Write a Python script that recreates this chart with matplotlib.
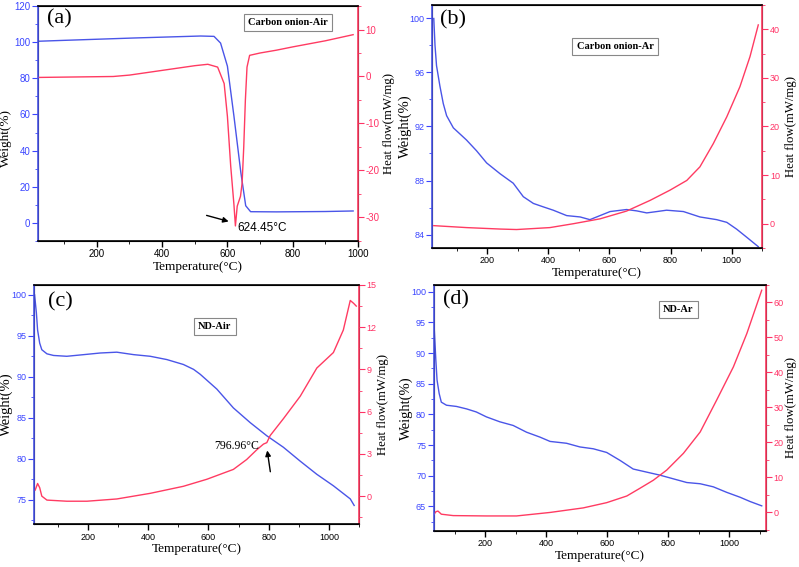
import matplotlib as mpl
mpl.use('agg')
import matplotlib.pyplot as plt
from matplotlib.ticker import MultipleLocator, AutoMinorLocator

plt.rc('font', family='Liberation Sans')
plt.rc('axes', unicode_minus=False)

# ---- (a) carbon onion in air ----
a_t_w = [20, 100, 313, 518, 559, 579, 600, 620, 641, 656, 671, 750, 900, 985]
a_w = [100.5, 101.0, 102.3, 103.4, 103.2, 99.5, 86.7, 59.0, 28.0, 9.5, 6.2, 6.1, 6.3, 6.6]
a_t_h = [20, 250, 300, 400, 500, 540, 570, 590, 600, 610, 620, 624.45, 630, 640,
         645, 650, 655, 660, 668, 700, 750, 800, 900, 985]
a_h = [-0.2, 0.0, 0.3, 1.3, 2.3, 2.6, 2.0, -1.5, -8.5, -19.0, -27.3, -31.8, -27.6,
       -25.5, -22.7, -15.0, -5.0, 2.0, 4.5, 5.0, 5.6, 6.3, 7.6, 8.9]

# ---- (b) carbon onion in Ar ----
b_t_w = [25, 29, 34, 45, 56, 67, 89, 132, 165, 198, 242, 285, 318, 351, 383, 416,
         460, 504, 536, 569, 602, 656, 689, 722, 755, 787, 842, 896, 951, 984,
         1016, 1049, 1087]
b_w = [100.0, 98.0, 96.5, 95.0, 93.7, 92.8, 91.9, 91.0, 90.2, 89.3, 88.5, 87.8,
       86.8, 86.3, 86.05, 85.8, 85.4, 85.3, 85.1, 85.4, 85.7, 85.85, 85.75, 85.6,
       85.7, 85.8, 85.7, 85.3, 85.1, 84.9, 84.4, 83.8, 83.1]
b_t_h = [25, 132, 242, 296, 405, 482, 569, 656, 733, 798, 853, 896, 940, 984,
         1027, 1060, 1087]
b_h = [-0.4, -0.8, -1.1, -1.2, -0.8, 0.0, 1.0, 2.6, 4.8, 6.9, 8.9, 11.7, 16.5,
       22.0, 28.2, 34.4, 40.9]

# ---- (c) ND in air ----
c_t_w = [23, 29, 33, 40, 47, 64, 86, 130, 186, 241, 296, 352, 407, 462, 517, 551,
         573, 628, 683, 739, 794, 849, 905, 960, 1015, 1071, 1084]
c_w = [100.0, 97.8, 95.7, 94.1, 93.3, 92.8, 92.6, 92.5, 92.7, 92.9, 93.0, 92.7,
       92.5, 92.1, 91.5, 90.9, 90.3, 88.5, 86.2, 84.4, 82.8, 81.4, 79.7, 78.1,
       76.7, 75.1, 74.3]
c_t_h = [25, 33, 40, 47, 64, 130, 197, 296, 407, 517, 595, 683, 727, 761, 783,
         794, 805, 849, 905, 960, 1015, 1048, 1071, 1082, 1091]
c_h = [0.43, 0.9, 0.6, 0.0, -0.28, -0.36, -0.36, -0.2, 0.2, 0.7, 1.2, 1.9, 2.6,
       3.3, 3.7, 3.8, 4.3, 5.5, 7.1, 9.1, 10.2, 11.8, 13.9, 13.7, 13.5]

# ---- (d) ND in Ar ----
d_t_w = [29, 32, 37, 41, 48, 55, 72, 105, 138, 170, 203, 247, 291, 335, 379, 412,
         466, 510, 554, 598, 642, 685, 729, 773, 817, 861, 905, 948, 992, 1036,
         1069, 1107]
d_w = [100.0, 93.8, 88.9, 85.6, 83.4, 82.0, 81.5, 81.3, 80.9, 80.4, 79.6, 78.8,
       78.2, 77.1, 76.3, 75.6, 75.3, 74.7, 74.4, 73.8, 72.5, 71.1, 70.6, 70.1,
       69.5, 68.9, 68.7, 68.2, 67.3, 66.5, 65.8, 65.1]
d_t_h = [29, 37, 44, 55, 94, 203, 302, 412, 521, 598, 664, 707, 751, 795, 850,
         905, 959, 1014, 1058, 1107]
d_h = [-0.8, 0.2, 0.4, -0.5, -0.9, -1.0, -1.0, 0.0, 1.3, 2.8, 4.7, 6.9, 9.2, 12.1,
       16.9, 23.0, 32.1, 41.6, 51.1, 63.5]

BLUE = '#4a55e8'
RED = '#ff3b62'
BLUE_TXT = '#3a45ff'
RED_TXT = '#ff3366'
SERIF = 'Liberation Serif'

fig = plt.figure(figsize=(7.99, 5.67), dpi=100)


def panel(rect, tw, w, th, h, xlim, wlim, hlim, wstep, hstep, letter, name,
          letter_pos, name_pos, wlab_xy, hlab_x, tsize=6.5, wsize=10.5):
    ax = fig.add_axes(rect)
    ax2 = ax.twinx()
    ax.plot(tw, w, color=BLUE, lw=1.0)
    ax2.plot(th, h, color=RED, lw=1.0)
    ax.set_xlim(*xlim)
    ax.set_ylim(*wlim)
    ax2.set_ylim(*hlim)
    ax.xaxis.set_major_locator(MultipleLocator(200))
    ax.xaxis.set_minor_locator(MultipleLocator(100))
    ax.yaxis.set_major_locator(MultipleLocator(wstep))
    ax.yaxis.set_minor_locator(AutoMinorLocator(2))
    ax2.yaxis.set_major_locator(MultipleLocator(hstep))
    ax2.yaxis.set_minor_locator(AutoMinorLocator(2))
    ax.tick_params(axis='x', direction='out', length=4, width=1, labelsize=tsize,
                   pad=2)
    ax.tick_params(axis='x', which='minor', direction='out', length=2.5)
    ax.tick_params(axis='y', which='both', direction='out', colors=BLUE_TXT,
                   labelsize=tsize, pad=1.5)
    ax.tick_params(axis='y', which='major', length=4)
    ax.tick_params(axis='y', which='minor', length=2.5)
    ax2.tick_params(axis='y', which='both', direction='out', colors=RED_TXT,
                    labelsize=tsize, pad=1.5)
    ax2.tick_params(axis='y', which='major', length=4)
    ax2.tick_params(axis='y', which='minor', length=2.5)
    ax2.spines['left'].set_color(BLUE)
    ax2.spines['right'].set_color(RED)
    for s in ax2.spines.values():
        s.set_linewidth(1.2)
    ax.set_xlabel('Temperature(\u00b0C)', family=SERIF, fontsize=9.5, labelpad=1)
    ax.set_ylabel('Weight(%)', family=SERIF, fontsize=wsize)
    ax.yaxis.set_label_coords(*wlab_xy)
    ax2.set_ylabel('Heat flow(mW/mg)', family=SERIF, fontsize=9.2)
    ax2.yaxis.set_label_coords(hlab_x, 0.5)
    ax.text(letter_pos[0], letter_pos[1], letter, transform=ax.transAxes,
            family=SERIF, fontsize=16, ha='left', va='top')
    ax.text(name_pos[0], name_pos[1], name, transform=ax.transAxes,
            family=SERIF, fontsize=7.5, fontweight='bold', ha='center',
            va='center',
            bbox=dict(boxstyle='square,pad=0.4', fc='white', ec='#888888',
                      lw=0.8))
    return ax, ax2


axa, axa2 = panel([0.0476, 0.575, 0.4005, 0.4144], a_t_w, a_w, a_t_h, a_h,
                  (20, 1000), (-10, 120), (-35, 15), 20, 10, '(a)',
                  'Carbon onion-Air', (0.028, 0.985), (0.78, 0.93),
                  (-0.081, 0.44), 1.078, tsize=7, wsize=9.5)
axa2.annotate('', xy=(612, -31.0), xytext=(528, -29.4),
              arrowprops=dict(arrowstyle='-|>', color='black', lw=1.0,
                              mutation_scale=8))
axa2.text(630, -32.2, '624.45\u00b0C', fontsize=8.5, ha='left', va='center')

axb, axb2 = panel([0.541, 0.5626, 0.413, 0.4286], b_t_w, b_w, b_t_h, b_h,
                  (20, 1100), (83, 101), (-5, 45), 4, 10, '(b)',
                  'Carbon onion-Ar', (0.023, 0.98), (0.554, 0.83),
                  (-0.062, 0.5), 1.068)

axc, axc2 = panel([0.0429, 0.0753, 0.4064, 0.4221], c_t_w, c_w, c_t_h, c_h,
                  (22, 1100), (72, 101.2), (-2, 15), 5, 3, '(c)',
                  'ND-Air', (0.042, 0.97), (0.556, 0.826),
                  (-0.066, 0.5), 1.055)
axc2.annotate('', xy=(794, 3.44), xytext=(807, 1.54),
              arrowprops=dict(arrowstyle='-|>', color='black', lw=1.0,
                              mutation_scale=8))
axc2.text(768, 3.55, '796.96\u00b0C', family=SERIF, fontsize=8.5, ha='right',
          va='center')

axd, axd2 = panel([0.5428, 0.0635, 0.4155, 0.4339], d_t_w, d_w, d_t_h, d_h,
                  (30, 1120), (61, 101.1), (-5.3, 65), 5, 10, '(d)',
                  'ND-Ar', (0.028, 0.98), (0.737, 0.90),
                  (-0.062, 0.5), 1.058)

fig.savefig('out.png', dpi=100)
